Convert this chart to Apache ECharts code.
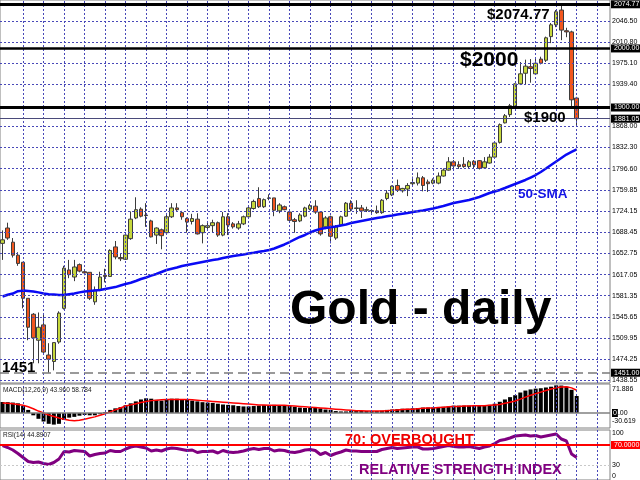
<!DOCTYPE html>
<html><head><meta charset="utf-8">
<script src="https://cdn.jsdelivr.net/npm/echarts@6/dist/echarts.min.js"></script>
<style>html,body{margin:0;padding:0;background:#fff}#c{width:640px;height:480px}</style>
</head><body><div id="c"></div>
<script>
// ---------- DATA ----------
const opens = [1670,1696,1672,1650,1638,1577,1550,1506,1532,1481,
 1470,1503,1560,1625,1613,1634,1622,1621,1571,1591,
 1616,1614,1664,1646,1643,1678,1713,1728,1718,1708,
 1684,1693,1688,1715,1730,1722,1712,1707,1711,1688,
 1697,1700,1705,1684,1715,1703,1696,1703,1715,1729,
 1746,1732,1746,1747,1725,1732,1723,1710,1708,1716,
 1728,1733,1723,1698,1715,1679,1701,1716,1738,1729,
 1730,1726,1725,1725,1722,1746,1752,1768,1759,1762,
 1771,1772,1781,1774,1772,1772,1784,1794,1808,1803,
 1804,1800,1809,1810,1798,1806,1816,1841,1874,1888,
 1902,1940,1958,1969,1957,1982,1980,2020,2040,2065,
 2030,2028,1916];
const closes = [1676,1679,1650,1636,1577,1528,1510,1528,1486,1474,
 1502,1552,1628,1617,1630,1623,1620,1577,1591,1613,
 1614,1658,1647,1644,1684,1711,1727,1716,1717,1681,
 1696,1683,1715,1730,1727,1715,1706,1712,1686,1700,
 1700,1705,1684,1715,1701,1698,1703,1715,1730,1741,
 1732,1744,1747,1726,1735,1727,1709,1707,1718,1730,
 1734,1723,1686,1713,1682,1698,1715,1738,1728,1730,
 1725,1727,1725.5,1722,1743,1755,1767,1760,1763,1768,
 1773,1781,1768,1771,1777,1784,1794,1808,1801,1800,
 1800,1808,1803,1797,1808,1816,1840,1871,1886,1903,
 1940,1957,1970,1966,1975,1975,2018,2040,2062,2031,
 2028,1913,1881.05];
const lows = [1642,1676,1646,1632,1560,1506,1467,1467,1483,1451,
 1455,1500,1558,1611,1606,1621,1616,1574,1566,1589,
 1604,1613,1643,1640,1642,1676,1711,1714,1698,1680,
 1669,1660,1687,1713,1725,1710,1688,1702,1685,1670,
 1693,1688,1681,1682,1684,1695,1693,1701,1714,1727,
 1730,1730,1743,1716,1721,1726,1708,1688,1706,1714,
 1726,1720,1683,1694,1670,1676,1699,1715,1724,1720,
 1713,1723,1720,1720,1720,1743,1750,1757,1756,1750,
 1767,1768,1758,1757,1770,1770,1783,1793,1794,1796,
 1798,1797,1797,1795,1796,1805,1815,1839,1873,1884,
 1901,1938,1939,1942,1955,1973,1977,2009,2036,2014,
 2019,1900,1868];
const highs = [1692,1705,1679,1655,1638,1577,1552,1553,1550,1501,
 1502,1555,1632,1642,1642,1636,1625,1621,1597,1622,
 1627,1660,1674,1652,1684,1724,1748,1731,1738,1710,
 1697,1695,1718,1738,1738,1725,1714,1720,1721,1702,
 1705,1710,1707,1723,1721,1706,1708,1717,1732,1744,
 1765,1746,1753,1747,1738,1734,1726,1713,1721,1732,
 1737,1743,1723,1716,1717,1701,1717,1740,1743,1743,
 1735,1732,1728,1734,1745,1760,1768,1778,1764,1772,
 1783,1790,1784,1778,1780,1790,1797,1816,1811,1809,
 1816,1811,1811,1811,1816,1821,1841,1873,1889,1906,
 1941,1977,1981,1982,1983,1986,2020,2043,2065,2074.77,
 2035,2030,1918];
const sma50 = [1580,1583,1585,1589,1590,1589.5,1588.5,1587,1585,1584,
 1583.5,1582.6,1582.6,1584,1585,1587,1588.5,1589.5,1590.3,1591,
 1592.7,1594.4,1596,1598.7,1601.2,1603.4,1606.3,1609.7,1612.2,1615.3,
 1618.1,1621.5,1624.9,1627,1629.1,1631.7,1633.4,1635.1,1636.8,1638.5,
 1640.2,1641.9,1643.2,1645.2,1646.9,1648.6,1649.8,1651.2,1652.9,1654.2,
 1655.7,1657.1,1658.8,1661.3,1664.7,1668.1,1672.3,1676.6,1680.8,1684.2,
 1688.4,1691.8,1694.3,1696,1697.2,1698.6,1700.3,1702,1704.5,1706.2,
 1707.9,1709.6,1711.3,1713,1714.1,1715.8,1717.2,1718.9,1720.2,1721.4,
 1723.1,1724.3,1725.6,1727.3,1729,1731,1733.3,1735.8,1738.3,1740,
 1741.7,1743.4,1746,1748.5,1751.9,1755.3,1757.8,1760.4,1763.7,1767.1,
 1770.5,1773.9,1777.3,1781.5,1785.7,1790.8,1796.7,1802.7,1808.6,1814.5,
 1820.4,1824.7,1829];
const macdMain = [28.5,28,27,25,18,8,-6,-15,-22,-28,
 -30,-28,-18,-12,-10,-7,-5,-6,-6,-3,
 2,8,12,15,20,25,30,35,38,37,
 34,32,35,37,37,36,34,32,30,28,
 27,26,24,22,21,20,18,17,17,18,
 19,20,20,21,20,19,18,16,14,13,
 13,13,12,9,8,5,4,4,5,5,
 5,5,5,5,6,8,9,10,11,11,
 12,13,14,14,14,15,16,17,19,19,
 19,19,19,19,19,21,24,29,35,41,
 46,53,58,61,63,64,66,68,71.5,71,
 68,60,43.96];
const macdSignal = [26,25,24,22,20,16,11,5,0,-5,
 -9,-13,-16,-19,-20,-19,-16,-13,-10,-6,
 -2,3,8,13,18,21,24,27,30,32,
 33,34,35,35,35,35,35,34,33,32,
 31,30,29,28,27,26,25,24,23,22,
 21,21,20,20,20,20,19,18,17,16,
 15,14,13,12,11,10,9,8,7,6,
 6,5,5,5,5,6,7,8,9,10,
 10,11,12,13,13,14,15,16,17,17,
 18,18,19,19,19,20,21,22,25,28,
 31,36,41,46,50,54,58,62,65,67,
 68,65,58.784];
const rsi14 = [69,65,60,53,45,37,35,36,33,31,
 35,42,57,56,59,58,57,48,51,53,
 54,59,57,57,62,66,68,66,64,58,
 60,58,62,64,63,61,59,60,55,57,
 57,58,54,59,56,55,56,58,61,63,
 61,63,63,58,60,59,56,55,57,60,
 61,59,51,55,49,53,56,60,58,58,
 57,57,57,57,61,63,65,63,64,65,
 66,66,62,62,63,65,67,69,67,66,
 66,67,65,63,66,68,73,79,81,84,
 88,89,90,88,89,86,88,90,92,82,
 78,52,44.89];
const priceTicks = [2046.50,2010.80,1975.10,1939.40,1868.00,1832.30,1796.60,1759.85,
 1724.15,1688.45,1652.75,1617.05,1581.35,1545.65,1509.95,1474.25,1438.55];
const keyLevels = [2074.77, 2000.00, 1900.00];
const lastClose = 1881.05;
const lowLevel = 1451.00;
const macdLabelValues = [71.886, 0, -30.619];
const rsiLevels = [100, 70, 30, 0];

// ---------- LAYOUT ----------
const chartSlots = 119;
const categories = Array.from({length: chartSlots}, (_, i) => 'D' + (i + 1));
const vGrid = [];
for (let k = 4; k < chartSlots; k += 4) vGrid.push(k);

const FONT = '"Liberation Sans", Arial, sans-serif';
const dotted = {color: '#4848b8', width: 1, type: [2, 2]};
const plainLabel = (t, extra) => Object.assign({show: true, position: 'end', distance: 2, formatter: t,
  color: '#000', fontSize: 7, fontFamily: FONT}, extra || {});
const boxLabel = (t, bg, extra) => Object.assign({show: true, position: 'end', distance: 1, formatter: t,
  color: '#fff', backgroundColor: bg || '#000', padding: [1, 3, 0, 3], fontSize: 7, fontFamily: FONT}, extra || {});
const vLines = vGrid.map(k => ({xAxis: k, lineStyle: dotted, label: {show: false}}));
const hidden = {color: 'rgba(255,255,255,0)', width: 1, type: 'solid'};

const candleData = opens.map((o, i) => [o, closes[i], lows[i], highs[i]]);

const chart = echarts.init(document.getElementById('c'), null, {renderer: 'canvas'});
const option = {
  animation: false,
  backgroundColor: '#ffffff',
  grid: [
    {left: 0, top: 0, width: 610, height: 383, show: true, borderColor: '#808080', borderWidth: 1},
    {left: 0, top: 384, width: 610, height: 44, show: true, borderColor: '#808080', borderWidth: 1},
    {left: 0, top: 430, width: 610, height: 51.5, show: true, borderColor: '#808080', borderWidth: 1}
  ],
  xAxis: [0, 1, 2].map(g => ({type: 'category', gridIndex: g, data: categories, boundaryGap: true, show: false})),
  yAxis: [
    {type: 'value', gridIndex: 0, min: 1433.6, max: 2082, show: false},
    {type: 'value', gridIndex: 1, min: -38.8, max: 75, show: false},
    {type: 'value', gridIndex: 2, min: 0, max: 100, show: false}
  ],
  series: [
    { // main grid
      type: 'line', xAxisIndex: 0, yAxisIndex: 0, data: [], z: 1, silent: true,
      markLine: {silent: true, symbol: ['none', 'none'], animation: false,
        data: priceTicks.map(v => ({yAxis: v, lineStyle: dotted, label: plainLabel(v.toFixed(2))})).concat(vLines)}
    },
    {
      type: 'candlestick', xAxisIndex: 0, yAxisIndex: 0, data: candleData, z: 3, barWidth: 4,
      itemStyle: {color: '#c6d83c', color0: '#f2561e', borderColor: '#3c3c3c', borderColor0: '#3c3c3c', borderWidth: 1}
    },
    {
      type: 'line', xAxisIndex: 0, yAxisIndex: 0, data: sma50, z: 4, symbol: 'none', smooth: false,
      lineStyle: {color: '#0a0af5', width: 2.5}
    },
    { // key levels
      type: 'line', xAxisIndex: 0, yAxisIndex: 0, data: [], z: 5, silent: true,
      markLine: {silent: true, symbol: ['none', 'none'], animation: false,
        data: [
          {yAxis: keyLevels[0], lineStyle: {color: '#000', width: 3, type: 'solid'}, label: boxLabel(keyLevels[0].toFixed(2))},
          {yAxis: keyLevels[1], lineStyle: {color: '#000', width: 2.5, type: 'solid'}, label: boxLabel(keyLevels[1].toFixed(2))},
          {yAxis: keyLevels[2], lineStyle: {color: '#000', width: 3, type: 'solid'}, label: boxLabel(keyLevels[2].toFixed(2))},
          {yAxis: lastClose, lineStyle: {color: '#4a4a7a', width: 1, type: 'solid'}, label: boxLabel(lastClose.toFixed(2))},
          {yAxis: lowLevel, lineStyle: {color: '#7a7a7a', width: 1.5, type: [9, 5]}, label: boxLabel(lowLevel.toFixed(2))}
        ]}
    },
    { // MACD grid
      type: 'line', xAxisIndex: 1, yAxisIndex: 1, data: [], z: 1, silent: true,
      markLine: {silent: true, symbol: ['none', 'none'], animation: false,
        data: vLines.concat([
          {yAxis: macdLabelValues[0], lineStyle: hidden, label: plainLabel(macdLabelValues[0].toFixed(3), {verticalAlign: 'top'})},
          {yAxis: macdLabelValues[1], lineStyle: {color: '#808080', width: 1.5, type: 'solid'},
            label: {show: true, position: 'end', distance: 2, formatter: '{b|0}{n|.00}', fontSize: 7, fontFamily: FONT,
              rich: {b: {color: '#fff', backgroundColor: '#000', padding: [1, 1, 0, 1], fontSize: 7}, n: {color: '#000', fontSize: 7}}}},
          {yAxis: macdLabelValues[2], lineStyle: hidden, label: plainLabel(macdLabelValues[2].toFixed(3), {verticalAlign: 'bottom'})}
        ])}
    },
    {
      type: 'bar', xAxisIndex: 1, yAxisIndex: 1, data: macdMain, barWidth: 4, z: 3,
      itemStyle: {color: '#000000'}
    },
    {
      type: 'line', xAxisIndex: 1, yAxisIndex: 1, data: macdSignal, z: 4, symbol: 'none',
      lineStyle: {color: '#ff0000', width: 1.5}
    },
    { // RSI grid
      type: 'line', xAxisIndex: 2, yAxisIndex: 2, data: [], z: 1, silent: true,
      markLine: {silent: true, symbol: ['none', 'none'], animation: false,
        data: vLines.concat([
          {yAxis: rsiLevels[0], lineStyle: hidden, label: plainLabel(String(rsiLevels[0]), {verticalAlign: 'top'})},
          {yAxis: rsiLevels[1], lineStyle: {color: '#ff0000', width: 2, type: 'solid'}, label: boxLabel(rsiLevels[1].toFixed(4), '#ff0000')},
          {yAxis: rsiLevels[2], lineStyle: {color: '#c8c8c8', width: 1, type: [2, 2]}, label: plainLabel(String(rsiLevels[2]))},
          {yAxis: rsiLevels[3], lineStyle: hidden, label: plainLabel(String(rsiLevels[3]), {verticalAlign: 'bottom'})}
        ])}
    },
    {
      type: 'line', xAxisIndex: 2, yAxisIndex: 2, data: rsi14, z: 4, symbol: 'none',
      lineStyle: {color: '#800080', width: 3}
    }
  ],
  graphic: [
    {type: 'text', x: 487, y: 14.5, z: 100, style: {text: '$2074.77', font: 'bold 15px ' + FONT, fill: '#000', textVerticalAlign: 'middle'}},
    {type: 'text', x: 460, y: 60, z: 100, style: {text: '$2000', font: 'bold 21px ' + FONT, fill: '#000', textVerticalAlign: 'middle'}},
    {type: 'text', x: 524, y: 117.5, z: 100, style: {text: '$1900', font: 'bold 15px ' + FONT, fill: '#000', textVerticalAlign: 'middle'}},
    {type: 'text', x: 518, y: 194, z: 100, style: {text: '50-SMA', font: 'bold 13.5px ' + FONT, fill: '#1414e6', textVerticalAlign: 'middle'}},
    {type: 'text', x: 2, y: 368, z: 100, style: {text: '1451', font: 'bold 15px ' + FONT, fill: '#000', textVerticalAlign: 'middle'}},
    {type: 'text', x: 290, y: 311, z: 100, style: {text: 'Gold - daily', font: 'bold 48px ' + FONT, fill: '#000', textVerticalAlign: 'middle'}},
    {type: 'text', x: 3, y: 390, z: 100, style: {text: 'MACD(12,26,9) 43.960 58.784', font: '6.5px ' + FONT, fill: '#202020', textVerticalAlign: 'middle'}},
    {type: 'text', x: 3, y: 435, z: 100, style: {text: 'RSI(14) 44.8907', font: '6.5px ' + FONT, fill: '#202020', textVerticalAlign: 'middle'}},
    {type: 'text', x: 345, y: 440, z: 100, style: {text: '70: OVERBOUGHT', font: 'bold 14.5px ' + FONT, fill: '#ee0000', textVerticalAlign: 'middle'}},
    {type: 'text', x: 359, y: 469.5, z: 100, style: {text: 'RELATIVE STRENGTH INDEX', font: 'bold 14.5px ' + FONT, fill: '#800080', textVerticalAlign: 'middle'}}
  ]
};
chart.setOption(option);
</script>
</body></html>
